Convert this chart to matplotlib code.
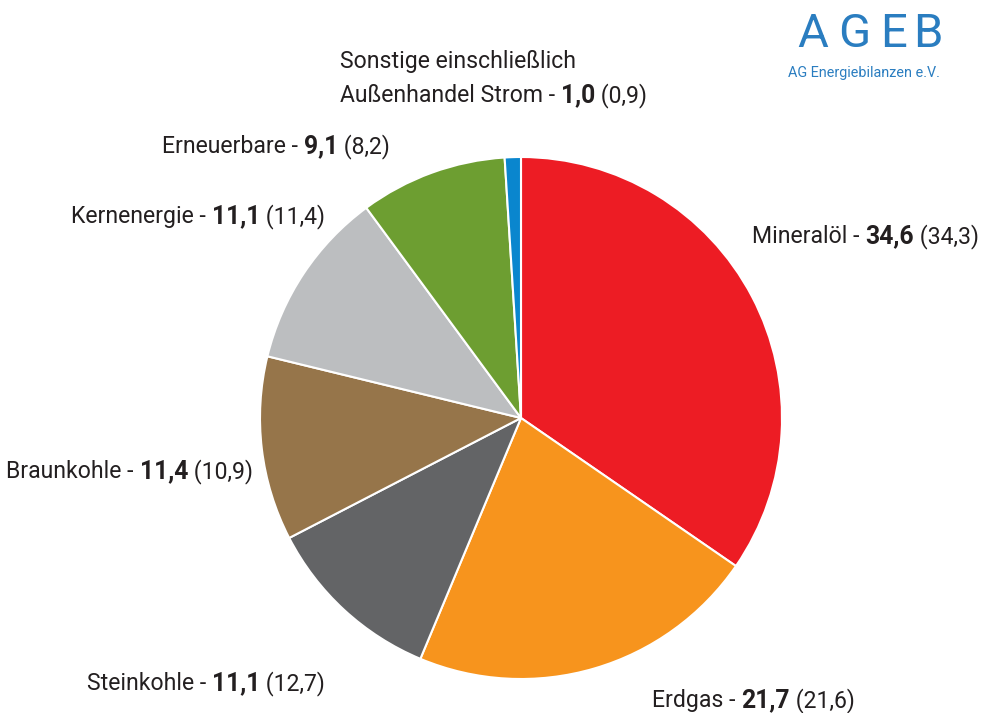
import matplotlib
matplotlib.use("Agg")
from matplotlib import pyplot as plt

# data
labels = ["Mineralöl", "Erdgas", "Steinkohle", "Braunkohle", "Kernenergie", "Erneuerbare",
          "Sonstige einschließlich\nAußenhandel Strom"]
values = [34.6, 21.7, 11.1, 11.4, 11.1, 9.1, 1.0]
prev_values = [34.3, 21.6, 12.7, 10.9, 11.4, 8.2, 0.9]
colors = ["#ED1C24", "#F7941D", "#636466", "#96754A", "#BCBEC0", "#6D9E31", "#0A86CE"]

plt.rcParams['font.family'] = ['Roboto', 'DejaVu Sans']

W, H = 983, 713
fig = plt.figure(figsize=(W / 100, H / 100), dpi=100)
renderer = fig.canvas.get_renderer()

cx, cy, r = 521, 418, 261
ax = fig.add_axes([(cx - r) / W, (H - cy - r) / H, 2 * r / W, 2 * r / H])
ax.pie(values, colors=colors, startangle=90, counterclock=False, radius=1,
       wedgeprops=dict(edgecolor="white", linewidth=1.5))
ax.set_xlim(-1, 1)
ax.set_ylim(-1, 1)
ax.set_aspect("equal")
ax.axis("off")


def fmt(v):
    return f"{v:.1f}".replace(".", ",")


col = "#231F20"


def put_line(parts, px, py, ha, fs):
    # parts: list of (text, weight, size factor); placed on one baseline, pixels from top-left
    txts = [fig.text(0, 0, s, fontsize=fs * k, fontweight=w, color=col, va="baseline", ha="left")
            for s, w, k in parts]
    widths = [t.get_window_extent(renderer).width for t in txts]
    x = px - sum(widths) if ha == "right" else px
    for t, w in zip(txts, widths):
        t.set_position((x / W, 1 - py / H))
        x += w
    return sum(widths)


def label_parts(name, v, pv):
    return [(name + " - ", "normal", 1.0), (fmt(v), "bold", 1.08), (" (" + fmt(pv) + ")", "normal", 1.0)]


# fit font size so the Mineralöl line is about as wide as in the original
probe = [fig.text(0, 0, s, fontsize=10 * k, fontweight=w) for s, w, k in label_parts("Mineralöl", 34.6, 34.3)]
w10 = sum(t.get_window_extent(renderer).width for t in probe)
for t in probe:
    t.remove()
fs = 10 * 226 / w10

# label baseline positions in pixels (x, y, alignment)
spots = [(752, 243, "left"), (652, 707, "left"), (325, 690, "right"), (253, 478, "right"),
         (325, 223, "right"), (390, 153, "right"), (340, 102, "left")]

for lab, v, pv, (px, py, ha) in zip(labels, values, prev_values, spots):
    lines = lab.split("\n")
    put_line(label_parts(lines[-1], v, pv), px, py, ha, fs)
    if len(lines) > 1:
        put_line([(lines[0], "normal", 1.0)], px, py - 34, ha, fs)

# logo
logo_blue = "#2A7DC0"
for ch, xc in zip("AGEB", [813, 854, 894, 928]):
    fig.text(xc / W, 1 - 47 / H, ch, fontsize=34, fontweight="normal", color=logo_blue,
             ha="center", va="baseline")
sub = fig.text(788 / W, 1 - 77 / H, "AG Energiebilanzen e.V.", fontsize=10, color=logo_blue,
               ha="left", va="baseline")
sub.set_fontsize(10 * 152 / sub.get_window_extent(renderer).width)

fig.savefig("out.png", dpi=100)
